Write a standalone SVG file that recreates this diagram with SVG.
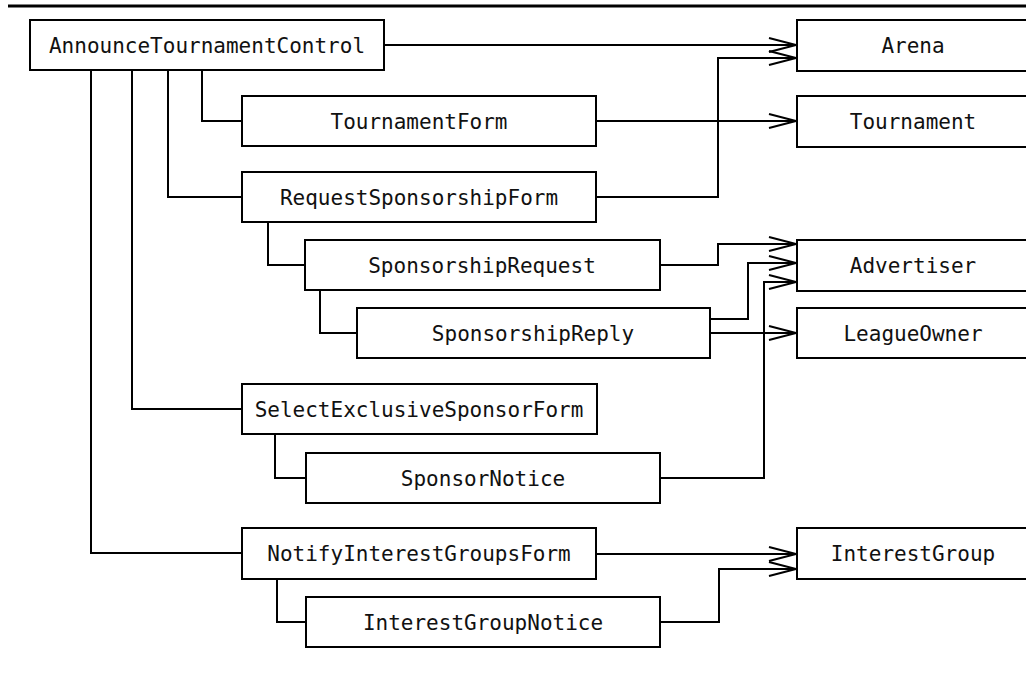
<svg xmlns="http://www.w3.org/2000/svg" width="1026" height="677" viewBox="0 0 1026 677">
<style>
.box{fill:#fff;stroke:#000;stroke-width:2}
.t{font-family:"DejaVu Sans Mono","Liberation Mono",monospace;font-size:21px;fill:#111;text-anchor:middle}
.c{fill:none;stroke:#000;stroke-width:2}
</style>
<defs>
<marker id="ah" markerUnits="userSpaceOnUse" markerWidth="30" markerHeight="20" viewBox="-29 -10 30 20" refX="0" refY="0" orient="auto" overflow="visible">
<path d="M-27,-7 L0,0 L-27,7" fill="none" stroke="#000" stroke-width="2"/>
</marker>
</defs>
<rect width="1026" height="677" fill="#fff"/>
<line x1="8" y1="6" x2="1026" y2="6" stroke="#000" stroke-width="3"/>
<g id="connectors">
<path class="c" d="M91,70 V553 H242"/>
<path class="c" d="M132,70 V409 H242"/>
<path class="c" d="M168,70 V197 H242"/>
<path class="c" d="M202,70 V121 H242"/>
<path class="c" d="M268,222 V265 H305"/>
<path class="c" d="M320,290 V333 H357"/>
<path class="c" d="M275,434 V478 H306"/>
<path class="c" d="M277,579 V622 H306"/>
<path class="c" marker-end="url(#ah)" d="M384,45 H796"/>
<path class="c" marker-end="url(#ah)" d="M596,121 H796"/>
<path class="c" marker-end="url(#ah)" d="M596,197 H718 V58 H796"/>
<path class="c" marker-end="url(#ah)" d="M660,265 H718 V244 H796"/>
<path class="c" marker-end="url(#ah)" d="M708,319 H748 V263 H796"/>
<path class="c" marker-end="url(#ah)" d="M708,333 H796"/>
<path class="c" marker-end="url(#ah)" d="M660,478 H764 V282 H796"/>
<path class="c" marker-end="url(#ah)" d="M596,554 H796"/>
<path class="c" marker-end="url(#ah)" d="M660,622 H719 V569 H796"/>
</g>
<g id="AnnounceTournamentControl"><rect class="box" x="30" y="20" width="354" height="50"/><text class="t" x="207" y="52.5">AnnounceTournamentControl</text></g>
<g id="TournamentForm"><rect class="box" x="242" y="96" width="354" height="50"/><text class="t" x="419" y="128.5">TournamentForm</text></g>
<g id="RequestSponsorshipForm"><rect class="box" x="242" y="172" width="354" height="50"/><text class="t" x="419" y="204.5">RequestSponsorshipForm</text></g>
<g id="SponsorshipRequest"><rect class="box" x="305" y="240" width="355" height="50"/><text class="t" x="482" y="272.5">SponsorshipRequest</text></g>
<g id="SponsorshipReply"><rect class="box" x="357" y="308" width="353" height="50"/><text class="t" x="533" y="340.5">SponsorshipReply</text></g>
<g id="SelectExclusiveSponsorForm"><rect class="box" x="242" y="384" width="355" height="50"/><text class="t" x="419" y="416.5">SelectExclusiveSponsorForm</text></g>
<g id="SponsorNotice"><rect class="box" x="306" y="453" width="354" height="50"/><text class="t" x="483" y="485.5">SponsorNotice</text></g>
<g id="NotifyInterestGroupsForm"><rect class="box" x="242" y="528" width="354" height="51"/><text class="t" x="419" y="561">NotifyInterestGroupsForm</text></g>
<g id="InterestGroupNotice"><rect class="box" x="306" y="597" width="354" height="50"/><text class="t" x="483" y="629.5">InterestGroupNotice</text></g>
<g id="Arena"><rect class="box" x="797" y="20" width="232" height="51"/><text class="t" x="913" y="53">Arena</text></g>
<g id="Tournament"><rect class="box" x="797" y="96" width="232" height="51"/><text class="t" x="913" y="129">Tournament</text></g>
<g id="Advertiser"><rect class="box" x="797" y="240" width="232" height="51"/><text class="t" x="913" y="273">Advertiser</text></g>
<g id="LeagueOwner"><rect class="box" x="797" y="308" width="232" height="50"/><text class="t" x="913" y="340.5">LeagueOwner</text></g>
<g id="InterestGroup"><rect class="box" x="797" y="528" width="232" height="51"/><text class="t" x="913" y="561">InterestGroup</text></g>
</svg>
